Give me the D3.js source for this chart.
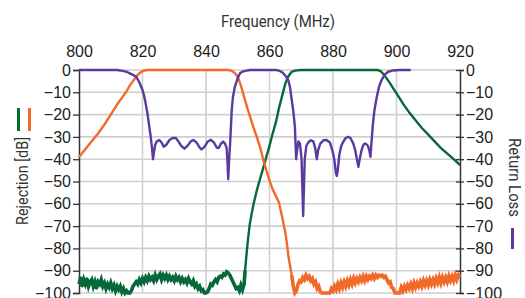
<!DOCTYPE html>
<html>
<head>
<meta charset="utf-8">
<script src="https://cdn.jsdelivr.net/npm/d3@7"></script>
<style>
  body { margin: 0; background: #fff; }
  .tick text { font-family: "Liberation Sans", Arial, sans-serif; font-size: 16px; fill: #222; }
  .title { font-family: "Roboto", sans-serif; font-size: 17px; fill: #333; }
</style>
</head>
<body>
<div id="chart"></div>
<script>
// frequency axis ticks (MHz) and rejection ticks (dB)
const freqTicks = [800, 820, 840, 860, 880, 900, 920];
const dbTicks = [0, -10, -20, -30, -40, -50, -60, -70, -80, -90, -100];

// low band filter (orange), [MHz, dB]
const lowBand = [
  [800,-39],[802,-35.5],[804,-32],[806,-28.5],[808,-24.5],[810,-20],[812,-15.5],[814,-11.5],[815,-9.5],
  [816,-7],[817,-5],[818,-3],[819,-1.5],[820,-0.5],[821,-0.1],[822,0],[847,0],[848,-0.3],[849,-1.2],
  [850,-3],[851,-7],[852,-12],[853,-17],[854,-21.5],[855,-26],[856,-30],[857,-34.5],[858,-40],[859,-45],
  [860,-49.5],[861,-53.5],[862,-56.5],[863,-59.5],[864,-66],[865,-73],[865.5,-78],[866,-84],[866.5,-88],
  [867,-92],[867.5,-97],[868,-100],[868.5,-99],[869,-96],[869.5,-94.5],[870,-95],[870.5,-93],[871,-94],
  [871.5,-92],[872,-93.5],[872.5,-92.5],[873,-94.5],[873.5,-93.5],[874,-96],[874.5,-95],[875,-98],
  [875.5,-97],[876,-99.5],[876.5,-100],[877,-100],[878,-100],[879,-100],[879.5,-98],[880,-99],[880.5,-97],
  [881,-98.5],[881.5,-96],[882,-98],[882.5,-95.5],[883,-97.5],[883.5,-95],[884,-97],[884.5,-94.5],
  [885,-96.5],[885.5,-94],[886,-96],[886.5,-93.5],[887,-95.5],[887.5,-93.5],[888,-95],[888.5,-93],
  [889,-94.5],[889.5,-92.5],[890,-94.5],[890.5,-92.5],[891,-94],[891.5,-92.5],[892,-93.5],[892.5,-92],
  [893,-93.5],[893.5,-92],[894,-93],[894.5,-92],[895,-92.5],[895.5,-92],[896,-93],[896.5,-92.5],[897,-94],
  [897.5,-95.5],[898,-95],[898.5,-97.5],[899,-98],[899.5,-100],[900,-100],[900.5,-100],[901,-100],
  [901.5,-97.5],[902,-99],[902.5,-97],[903,-98.5],[903.5,-96.5],[904,-98],[904.5,-96],[905,-98],
  [905.5,-95.5],[906,-97.5],[906.5,-95.5],[907,-97],[907.5,-95],[908,-97],[908.5,-94.5],[909,-96.5],
  [909.5,-94.5],[910,-96.5],[910.5,-94],[911,-96],[911.5,-94],[912,-96],[912.5,-93.5],[913,-95.5],
  [913.5,-93],[914,-95.5],[914.5,-93],[915,-95],[915.5,-93],[916,-95],[916.5,-92.5],[917,-94.5],
  [917.5,-92.5],[918,-94.5],[918.5,-92],[919,-94],[919.5,-92],[920,-93]
];

// high band filter (green), [MHz, dB]
const highBand = [
  [800,-96],[800.5,-93],[801,-97],[801.5,-94],[802,-96],[802.5,-93.5],[803,-97],[803.5,-95],[804,-94],
  [804.5,-97],[805,-95],[805.5,-98],[806,-95],[806.5,-96],[807,-94],[807.5,-97],[808,-95.5],[808.5,-98],
  [809,-96],[809.5,-97.5],[810,-95.5],[810.5,-98],[811,-96.5],[811.5,-99],[812,-97],[812.5,-98.5],
  [813,-97],[813.5,-99.5],[814,-98],[814.5,-100],[815,-99],[815.5,-100],[816,-100],[816.5,-99],[817,-97],
  [817.5,-96],[818,-95],[818.5,-96],[819,-94],[819.5,-95.5],[820,-93.5],[820.5,-95],[821,-93],
  [821.5,-94.5],[822,-92.5],[822.5,-94],[823,-93],[823.5,-94.5],[824,-92],[824.5,-94],[825,-92.5],
  [825.5,-91.5],[826,-94],[826.5,-92],[827,-93.5],[827.5,-92],[828,-94],[828.5,-92.5],[829,-94],
  [829.5,-93],[830,-94.5],[830.5,-92.5],[831,-94],[831.5,-93],[832,-95],[832.5,-93.5],[833,-95],
  [833.5,-94],[834,-95.5],[834.5,-93.5],[835,-95],[835.5,-96],[836,-94.5],[836.5,-97],[837,-96],
  [837.5,-98],[838,-97],[838.5,-99],[839,-98.5],[839.5,-100],[840,-100],[840.5,-99.5],[841,-98],
  [841.5,-96],[842,-96.5],[842.5,-95],[843,-94],[843.5,-95],[844,-93],[844.5,-92.5],[845,-93],
  [845.5,-91.5],[846,-92],[846.5,-90.5],[847,-91],[847.5,-92],[848,-93.5],[848.5,-95],[849,-96.5],
  [849.5,-98],[850,-97.5],[850.5,-99],[851,-96.5],[851.5,-98.5],[852,-96],[852.3,-90],[852.8,-82],
  [853.3,-75],[853.8,-69],[854.4,-64.3],[855,-60],[856,-54],[857,-49],[858,-44],[859,-39],[860,-34],
  [861,-28.5],[862,-23.5],[863,-17],[864,-11.5],[865,-6],[866,-2.7],[867,-0.8],[868,-0.3],[870,0],
  [894,0],[895,-0.5],[896,-2],[897,-4],[898,-6],[899,-8.3],[900,-10.5],[902,-15],[904,-19],[906,-22.5],
  [908,-26],[910,-29],[912,-32],[914,-35],[916,-37.5],[918,-40],[920,-42.6]
];

// return loss (purple), [MHz, dB]
const returnLoss = [
  [800,0],[812,0],[813,-0.2],[814,-0.5],[815,-0.8],[816,-1.5],[817,-2.2],[818,-3],[819,-5.5],[820,-9],
  [820.5,-11.5],[821,-15],[821.5,-19],[822,-24],[822.5,-29],[823,-35],[823.3,-40],[823.6,-37],[824,-33.5],
  [824.5,-32],[825.3,-31.4],[826,-32.5],[826.7,-34.4],[827.5,-33.5],[828.5,-31.4],[829.5,-30.5],
  [830.5,-30.5],[831.3,-32],[832.2,-34],[833.2,-35.3],[834.3,-33.8],[835.2,-32],[836,-31.4],[837,-32.5],
  [838,-34.8],[838.6,-35.6],[839.5,-34.5],[840.5,-32.2],[841.5,-31.3],[842.5,-32.5],[843.4,-34.8],
  [844,-35],[844.7,-33],[845.4,-32.1],[846,-33],[846.5,-35],[846.8,-42],[847,-49],[847.3,-40],[847.6,-32.9],
  [848.1,-18],[848.5,-12],[849.1,-7.5],[850,-3.5],[850.7,-1.5],[851.5,-0.7],[852.8,-0.3],[854,0],[862,0],
  [863,-0.3],[864,-1],[865,-2.5],[865.9,-4.5],[866.5,-8],[867,-13.4],[867.5,-18.5],[868,-25.4],
  [868.2,-33],[868.4,-40],[868.6,-37],[869.1,-32],[869.6,-33],[870.1,-40],[870.4,-55],[870.6,-65.5],
  [870.8,-55],[871.1,-40],[871.6,-34],[872.2,-32.5],[873,-31.5],[873.8,-32],[874.4,-35],[874.9,-40],
  [875.3,-36],[876,-33],[877,-31.5],[878,-31.4],[879,-32.5],[879.8,-36],[880.4,-40],[880.9,-46],
  [881.2,-47.5],[881.5,-45],[882,-38],[882.6,-34],[883.3,-32],[884,-30.5],[884.8,-30],[885.5,-30.5],
  [886.4,-33],[887,-36],[887.6,-40.5],[888,-43.4],[888.4,-40],[889,-35.9],[889.6,-33.5],[890.1,-32.9],
  [890.7,-33.5],[891.1,-34.4],[891.5,-36.5],[891.8,-38.9],[892.1,-33],[892.5,-25.4],[893,-18.5],
  [893.8,-12],[894.5,-7.5],[895.3,-4.5],[896.3,-2],[897.4,-0.8],[899,-0.2],[901,0],[904.5,0]
];

const W = 525, H = 298;
const margin = {left: 79, right: 65, top: 70, bottom: 5};

const svg = d3.select("#chart").append("svg")
  .attr("width", W).attr("height", H);

const x = d3.scaleLinear().domain([800, 920]).range([margin.left, W - margin.right]);
const y = d3.scaleLinear().domain([0, -100]).range([margin.top, H - margin.bottom]);

// grid
svg.append("g").selectAll("line").data(freqTicks.slice(1, -1)).enter().append("line")
  .attr("x1", d => x(d)).attr("x2", d => x(d))
  .attr("y1", y(0)).attr("y2", y(-100))
  .attr("stroke", "#cfcfcf").attr("stroke-width", 1.6);
svg.append("g").selectAll("line").data(dbTicks).enter().append("line")
  .attr("x1", x(800)).attr("x2", x(920))
  .attr("y1", d => y(d)).attr("y2", d => y(d))
  .attr("stroke", "#cfcfcf").attr("stroke-width", 1.6);

// axes
const topAxis = svg.append("g").attr("transform", `translate(0,${y(0)})`)
  .call(d3.axisTop(x).tickValues(freqTicks).tickSize(0).tickPadding(13));
topAxis.select(".domain").remove();

const leftAxis = svg.append("g").attr("transform", `translate(${x(800)},0)`)
  .call(d3.axisLeft(y).tickValues(dbTicks).tickSize(6).tickPadding(2));
const rightAxis = svg.append("g").attr("transform", `translate(${x(920)},0)`)
  .call(d3.axisRight(y).tickValues(dbTicks).tickSize(4).tickPadding(2));
rightAxis.selectAll(".tick line").attr("x1", -4);
[leftAxis, rightAxis].forEach(g => {
  g.select(".domain").attr("stroke", "#333").attr("stroke-width", 1.5);
  g.selectAll(".tick line").attr("stroke", "#333").attr("stroke-width", 1.3);
});

// curves; the noise floor is drawn a bit heavier, like the measured trace
const line = d3.line().x(d => x(d[0])).y(d => y(d[1]));
const noise = d3.line().defined(d => d[1] < -89).x(d => x(d[0])).y(d => y(d[1]));
const curves = [
  {data: highBand, color: "#07683b"},
  {data: lowBand, color: "#f26a27"},
  {data: returnLoss, color: "#5b3a9f"}
];
curves.forEach(c => {
  svg.append("path").datum(c.data)
    .attr("d", line)
    .attr("fill", "none")
    .attr("stroke", c.color)
    .attr("stroke-width", 2.4)
    .attr("stroke-linejoin", "round");
  svg.append("path").datum(c.data)
    .attr("d", noise)
    .attr("fill", "none")
    .attr("stroke", c.color)
    .attr("stroke-width", 3.6)
    .attr("stroke-linejoin", "miter");
});

// titles
svg.append("text").attr("class", "title")
  .attr("x", 278).attr("y", 27).attr("text-anchor", "middle")
  .attr("textLength", 114).attr("lengthAdjust", "spacingAndGlyphs")
  .text("Frequency (MHz)");
svg.append("text").attr("class", "title")
  .attr("transform", "translate(28,181) rotate(-90)").attr("text-anchor", "middle")
  .attr("textLength", 88).attr("lengthAdjust", "spacingAndGlyphs")
  .text("Rejection [dB]");
svg.append("text").attr("class", "title")
  .attr("transform", "translate(509,138) rotate(90)").attr("text-anchor", "start")
  .attr("textLength", 79).attr("lengthAdjust", "spacingAndGlyphs")
  .text("Return Loss");

// legend swatches
svg.append("rect").attr("x", 17).attr("y", 108).attr("width", 3).attr("height", 23).attr("fill", "#07683b");
svg.append("rect").attr("x", 28).attr("y", 108).attr("width", 3).attr("height", 23).attr("fill", "#f26a27");
svg.append("rect").attr("x", 511).attr("y", 228).attr("width", 3).attr("height", 21).attr("fill", "#5b3a9f");
</script>
</body>
</html>
